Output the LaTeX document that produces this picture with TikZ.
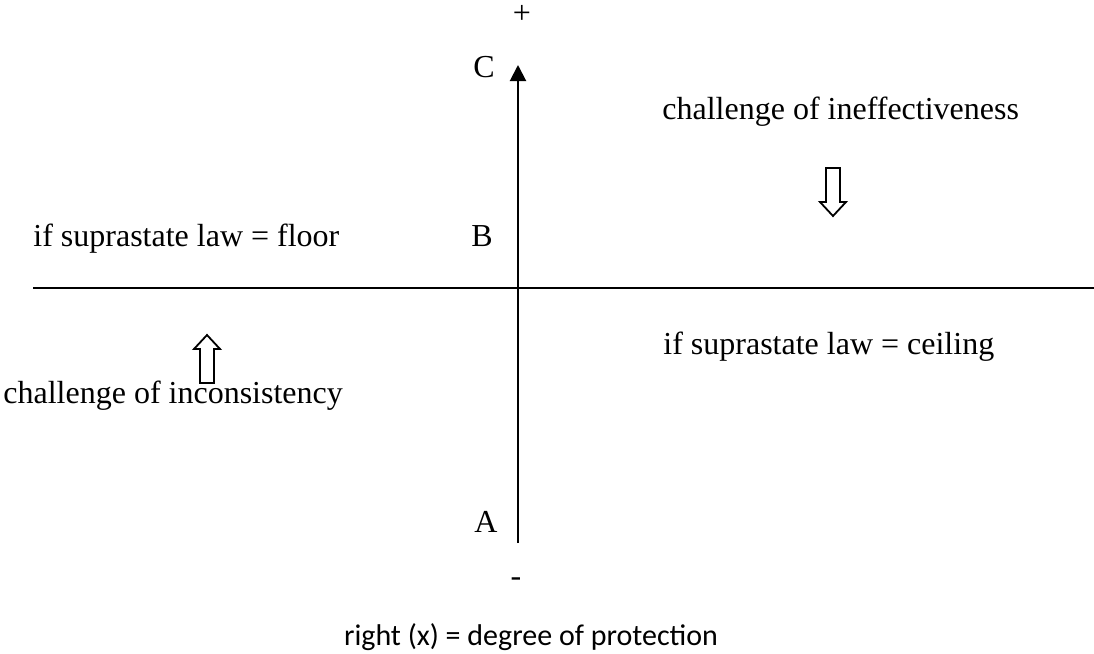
\documentclass[tikz,border=0pt]{standalone}
\usepackage{fontspec}
\setmainfont{Liberation Serif}
\newfontfamily\calfont{Carlito}
\usetikzlibrary{arrows.meta}
\tikzset{
  txt/.style={inner sep=0pt, anchor=base west, font=\fontsize{16}{19}\selectfont},
  axisline/.style={line width=1pt, black},
  hollowarrow/.pic={
    \draw[line width=0.9pt, line join=miter]
      (-7,0) -- (7,0) -- (7,34) -- (13,34) -- (0,48) -- (-13,34) -- (-7,34) -- cycle;
  },
}
\begin{document}
\begin{tikzpicture}[x=0.5pt, y=-0.5pt]
  \useasboundingbox (0,0) rectangle (1094,654);
  % axes
  \coordinate (ytop) at (518,65);
  \coordinate (ybot) at (518,543);
  \coordinate (xleft) at (33,288);
  \coordinate (xright) at (1094,288);
  \draw[axisline] (xleft) -- (xright);
  \draw[axisline, -{Triangle[width=8pt, length=8pt]}] (ybot) -- (ytop);
  % signs and letters
  \node[txt, anchor=center] (plus) at (522,14) {+};
  \node[txt, anchor=center] (minus) at (516,582) {-};
  \node[txt] (C) at (473,77) {C};
  \node[txt] (B) at (471,246) {B};
  \node[txt] (A) at (474,532) {A};
  % quadrant labels
  \node[txt] (ineff) at (662,119) {challenge of ineffectiveness};
  \node[txt] (floor) at (33,246) {if suprastate law = floor};
  \node[txt] (ceil) at (663,354) {if suprastate law = ceiling};
  \node[txt] (incons) at (3,403) {challenge of inconsistency};
  \pic at (833,168) {hollowarrow};
  \pic[rotate=180] at (207,383) {hollowarrow};
  % caption
  \node[inner sep=0pt, anchor=base, font=\calfont\fontsize{15}{18}\selectfont] (cap) at (531,645)
    {right (x) = degree of protection};
\end{tikzpicture}
\end{document}
